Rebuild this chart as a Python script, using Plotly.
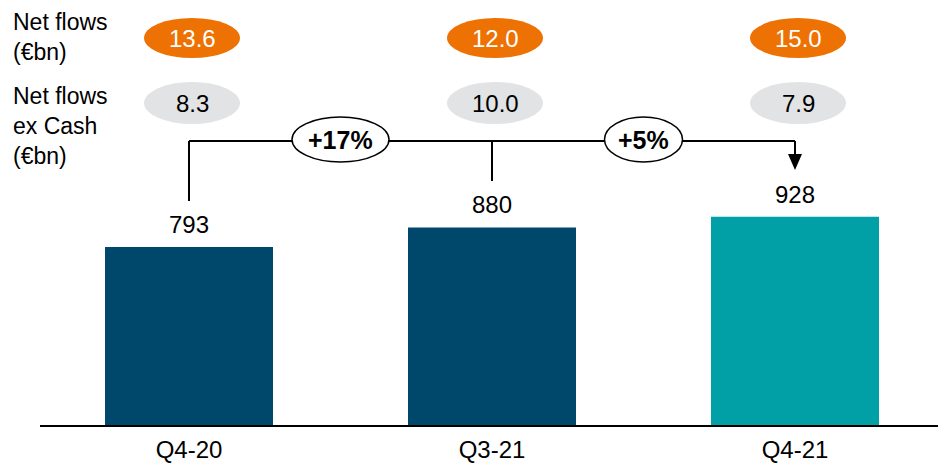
import plotly.graph_objects as go

categories = ["Q4-20", "Q3-21", "Q4-21"]
aum = [793, 880, 928]
net_flows = ["13.6", "12.0", "15.0"]
net_flows_ex_cash = ["8.3", "10.0", "7.9"]
growth_labels = ["+17%", "+5%"]
row_labels = ["Net flows<br>(€bn)", "Net flows<br>ex Cash<br>(€bn)"]
bar_colors = ["#00486B", "#00486B", "#00A0A6"]

W, H = 938, 463
ML, MB = 40, 38
PX_PER_CAT = 303.0
BASE_PX = H - MB          # baseline pixel row
PX_PER_UNIT = 0.2245
Y_MAX = BASE_PX / PX_PER_UNIT
X0 = -(189 - ML) / PX_PER_CAT
X1 = X0 + (W - ML) / PX_PER_CAT

def xd(px):
    return (px - 189) / PX_PER_CAT

def yd(py):
    return (BASE_PX - py) / PX_PER_UNIT

FONT = "Liberation Sans, Arial, sans-serif"

fig = go.Figure()
fig.add_trace(go.Bar(
    x=list(range(len(categories))), y=aum,
    marker=dict(color=bar_colors, line=dict(width=0)),
    width=168 / PX_PER_CAT, hoverinfo="skip",
))

shapes = []
annotations = []

for i, v in enumerate(aum):
    annotations.append(dict(x=i, y=v, xref="x", yref="y", text=str(v), showarrow=False,
                            yanchor="bottom", yshift=7,
                            font=dict(family=FONT, size=24, color="#000000")))

# ellipses for net flows
for i, (nf, nfx) in enumerate(zip(net_flows, net_flows_ex_cash)):
    cx = i + xd(192) - xd(189)
    shapes.append(dict(type="circle", xref="x", yref="y",
                       x0=cx - 48 / PX_PER_CAT, x1=cx + 48 / PX_PER_CAT,
                       y0=yd(58), y1=yd(18), fillcolor="#EE7203", line=dict(width=0)))
    annotations.append(dict(x=cx, y=yd(38), xref="x", yref="y", text=nf, showarrow=False,
                            font=dict(family=FONT, size=24, color="#FFFFFF")))
    shapes.append(dict(type="circle", xref="x", yref="y",
                       x0=cx - 48 / PX_PER_CAT, x1=cx + 48 / PX_PER_CAT,
                       y0=yd(124), y1=yd(82), fillcolor="#E1E3E4", line=dict(width=0)))
    annotations.append(dict(x=cx, y=yd(103), xref="x", yref="y", text=nfx, showarrow=False,
                            font=dict(family=FONT, size=24, color="#000000")))

# connector lines
LINE_Y = yd(141)
n = len(categories)
line = dict(color="#000000", width=2)
shapes.append(dict(type="line", xref="x", yref="y", x0=0, x1=n - 1, y0=LINE_Y, y1=LINE_Y, line=line))
shapes.append(dict(type="line", xref="x", yref="y", x0=0, x1=0, y0=LINE_Y, y1=yd(201), line=line))
shapes.append(dict(type="line", xref="x", yref="y", x0=1, x1=1, y0=LINE_Y, y1=yd(181), line=line))
shapes.append(dict(type="line", xref="x", yref="y", x0=n - 1, x1=n - 1, y0=LINE_Y, y1=yd(156), line=line))
hw = 7 / PX_PER_CAT
shapes.append(dict(type="path", xref="x", yref="y",
                   path=f"M {n-1-hw},{yd(154)} L {n-1+hw},{yd(154)} L {n-1},{yd(170)} Z",
                   fillcolor="#000000", line=dict(width=0)))

# growth ellipses
widths = [97, 78]
for j, g in enumerate(growth_labels):
    cx = j + 0.5
    hwid = widths[j] / 2 / PX_PER_CAT
    shapes.append(dict(type="circle", xref="x", yref="y", x0=cx - hwid, x1=cx + hwid,
                       y0=yd(162), y1=yd(117), fillcolor="#FFFFFF",
                       line=dict(color="#000000", width=1.5)))
    annotations.append(dict(x=cx, y=yd(140), xref="x", yref="y", text=f"<b>{g}</b>",
                            showarrow=False, font=dict(family=FONT, size=25, color="#000000")))

# left row labels (paper coords relative to plot area)
for txt, py in zip(row_labels, [37, 126]):
    annotations.append(dict(x=(11 - ML) / (W - ML), y=(BASE_PX - py) / BASE_PX,
                            xref="paper", yref="paper",
                            yanchor="middle", xanchor="left", align="left",
                            text=txt, showarrow=False,
                            font=dict(family=FONT, size=23, color="#000000")))

fig.update_layout(
    width=W, height=H,
    margin=dict(l=ML, r=0, t=0, b=MB, pad=0, autoexpand=False),
    paper_bgcolor="#FFFFFF", plot_bgcolor="#FFFFFF",
    showlegend=False,
    shapes=shapes, annotations=annotations,
    xaxis=dict(range=[X0, X1], tickmode="array", tickvals=list(range(n)), ticktext=categories,
               showgrid=False, zeroline=False, showline=True, linecolor="#000000", linewidth=2,
               ticks="outside", ticklen=2, tickcolor="rgba(0,0,0,0)", automargin=False,
               tickfont=dict(family=FONT, size=24, color="#000000")),
    yaxis=dict(range=[0, Y_MAX], visible=False, fixedrange=True, automargin=False),
)
fig.write_html("out.html")
